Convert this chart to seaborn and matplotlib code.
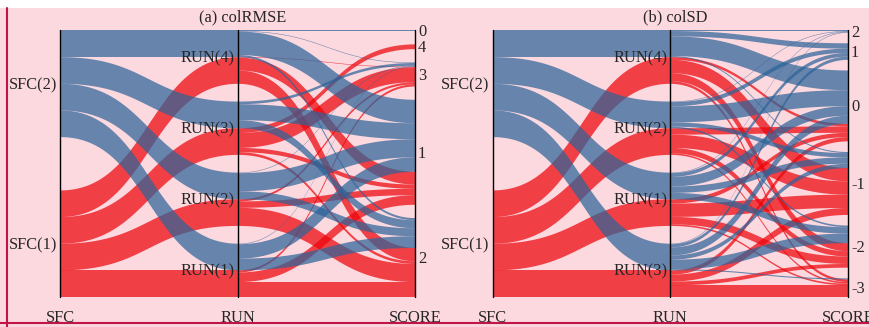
import matplotlib
matplotlib.use("Agg")
import matplotlib.pyplot as plt
import seaborn as sns
import pandas as pd
import numpy as np

sns.set_theme(style="white")
plt.rcParams["font.family"] = ["Liberation Serif", "DejaVu Serif"]

# ---------------- data ----------------
sfc_order = ["SFC(2)", "SFC(1)"]

# (a) colRMSE : rows = runs, columns = scores
runs_a = ["RUN(4)", "RUN(3)", "RUN(2)", "RUN(1)"]
scores_a = ["0", "4", "3", "1", "2"]
a_sfc2 = [[1, 0, 1, 44, 4],
          [0, 0, 5, 30, 15],
          [0, 0, 1, 34, 15],
          [0, 0, 1, 27, 22]]
a_sfc1 = [[0, 0, 1, 24, 25],
          [0, 9, 28, 8, 5],
          [0, 0, 4, 12, 34],
          [0, 0, 4, 18, 28]]

# (b) colSD
runs_b = ["RUN(4)", "RUN(2)", "RUN(1)", "RUN(3)"]
scores_b = ["2", "1", "0", "-1", "-2", "-3"]
b_sfc2 = [[1, 10, 37, 2, 0, 0],
          [1, 8, 30, 8, 3, 0],
          [1, 7, 18, 12, 12, 0],
          [1, 6, 15, 8, 18, 2]]
b_sfc1 = [[0, 0, 5, 25, 15, 5],
          [0, 0, 12, 25, 10, 3],
          [0, 0, 8, 25, 14, 3],
          [0, 0, 8, 13, 7, 22]]

colors = {"SFC(2)": "#2c6499", "SFC(1)": "#ed040b"}
bg = "#fcd8df"
frame = "#c0154a"


def to_long(runs, scores, m2, m1):
    rows = []
    for sfc, mat in zip(sfc_order, [m2, m1]):
        for run, row in zip(runs, mat):
            for sc, n in zip(scores, row):
                if n > 0:
                    rows.append((sfc, run, sc, n))
    return pd.DataFrame(rows, columns=["SFC", "RUN", "SCORE", "n"])


def ribbon(ax, x0, x1, y0, y1, h, color):
    t = np.linspace(0, 1, 90)
    x = x0 + (x1 - x0) * (1.5 * (1 - t) ** 2 * t + 1.5 * (1 - t) * t ** 2 + t ** 3)
    y = y0 + (y1 - y0) * (3 * t ** 2 - 2 * t ** 3)
    ax.fill_between(x, y, y + h, color=color, alpha=0.72, lw=0)


def parsets(ax, df, runs, scores, xs, top, bottom, title):
    H = bottom - top
    k = 0.8 * H / df.n.sum()
    orders = {"SFC": sfc_order, "RUN": runs, "SCORE": scores}
    starts = {}
    for dim, order in orders.items():
        tot = df.groupby(dim).n.sum().reindex(order).fillna(0)
        gap = 0.2 * H / (len(order) - 1)
        y, s = top, {}
        for c in order:
            s[c] = (y, y + tot[c] * k)
            y += tot[c] * k + gap
        starts[dim] = s

    ribs = []
    # segment SFC -> RUN
    cell = df.groupby(["SFC", "RUN"]).n.sum()
    left = {}
    for sfc in sfc_order:
        cur = starts["SFC"][sfc][0]
        for run in runs:
            left[(sfc, run)] = cur
            cur += cell.get((sfc, run), 0) * k
    for run in runs:
        cur = starts["RUN"][run][0]
        for sfc in sfc_order:
            w = cell.get((sfc, run), 0) * k
            ribs.append((sfc, xs[0], xs[1], left[(sfc, run)], cur, w))
            cur += w
    # segment RUN -> SCORE
    cnt = df.set_index(["SFC", "RUN", "SCORE"]).n
    left = {}
    for run in runs:
        cur = starts["RUN"][run][0]
        for sfc in sfc_order:
            for sc in scores:
                left[(sfc, run, sc)] = cur
                cur += cnt.get((sfc, run, sc), 0) * k
    for sc in scores:
        cur = starts["SCORE"][sc][0]
        for sfc in sfc_order:
            for run in runs:
                w = cnt.get((sfc, run, sc), 0) * k
                if w > 0:
                    ribs.append((sfc, xs[1], xs[2], left[(sfc, run, sc)], cur, w))
                cur += w

    for sfc in ["SFC(1)", "SFC(2)"]:
        for r in ribs:
            if r[0] == sfc and r[5] > 0:
                ribbon(ax, r[1], r[2], r[3], r[4], r[5], colors[sfc])

    for x in xs:
        ax.plot([x, x], [top, bottom], color="black", lw=1)

    fs = 11.8
    dy = 2
    for c, (a, b) in starts["SFC"].items():
        ax.text(xs[0] - 3, (a + b) / 2 + dy, c, ha="right", va="center", fontsize=fs)
    for c, (a, b) in starts["RUN"].items():
        ax.text(xs[1] - 3, (a + b) / 2 + dy, c, ha="right", va="center", fontsize=fs)
    for c, (a, b) in starts["SCORE"].items():
        ax.text(xs[2] + 3, (a + b) / 2 + dy, c, ha="left", va="center", fontsize=fs)
    for x, lab in zip(xs, ["SFC", "RUN", "SCORE"]):
        ax.text(x, 321.5, lab, ha="center", va="baseline", fontsize=fs)
    ax.text(xs[1] + 5, 17, title, ha="center", va="center", fontsize=fs)


fig = plt.figure(figsize=(8.69, 3.27), dpi=100, facecolor=bg)
ax = fig.add_axes([0, 0, 1, 1])
ax.set_facecolor(bg)
ax.set_xlim(0, 869)
ax.set_ylim(327, 0)
ax.axis("off")

ax.axhspan(0, 7.5, color="white", lw=0)

parsets(ax, to_long(runs_a, scores_a, a_sfc2, a_sfc1), runs_a, scores_a,
        [60, 237.5, 415], 30, 296.5, "(a) colRMSE")
parsets(ax, to_long(runs_b, scores_b, b_sfc2, b_sfc1), runs_b, scores_b,
        [492.5, 670, 848], 30, 296.5, "(b) colSD")

ax.plot([6.5, 6.5], [7.5, 327], color=frame, lw=1.5)
ax.plot([0, 869], [322.5, 322.5], color=frame, lw=1.5)

fig.savefig("out.png", dpi=100, facecolor=bg)
